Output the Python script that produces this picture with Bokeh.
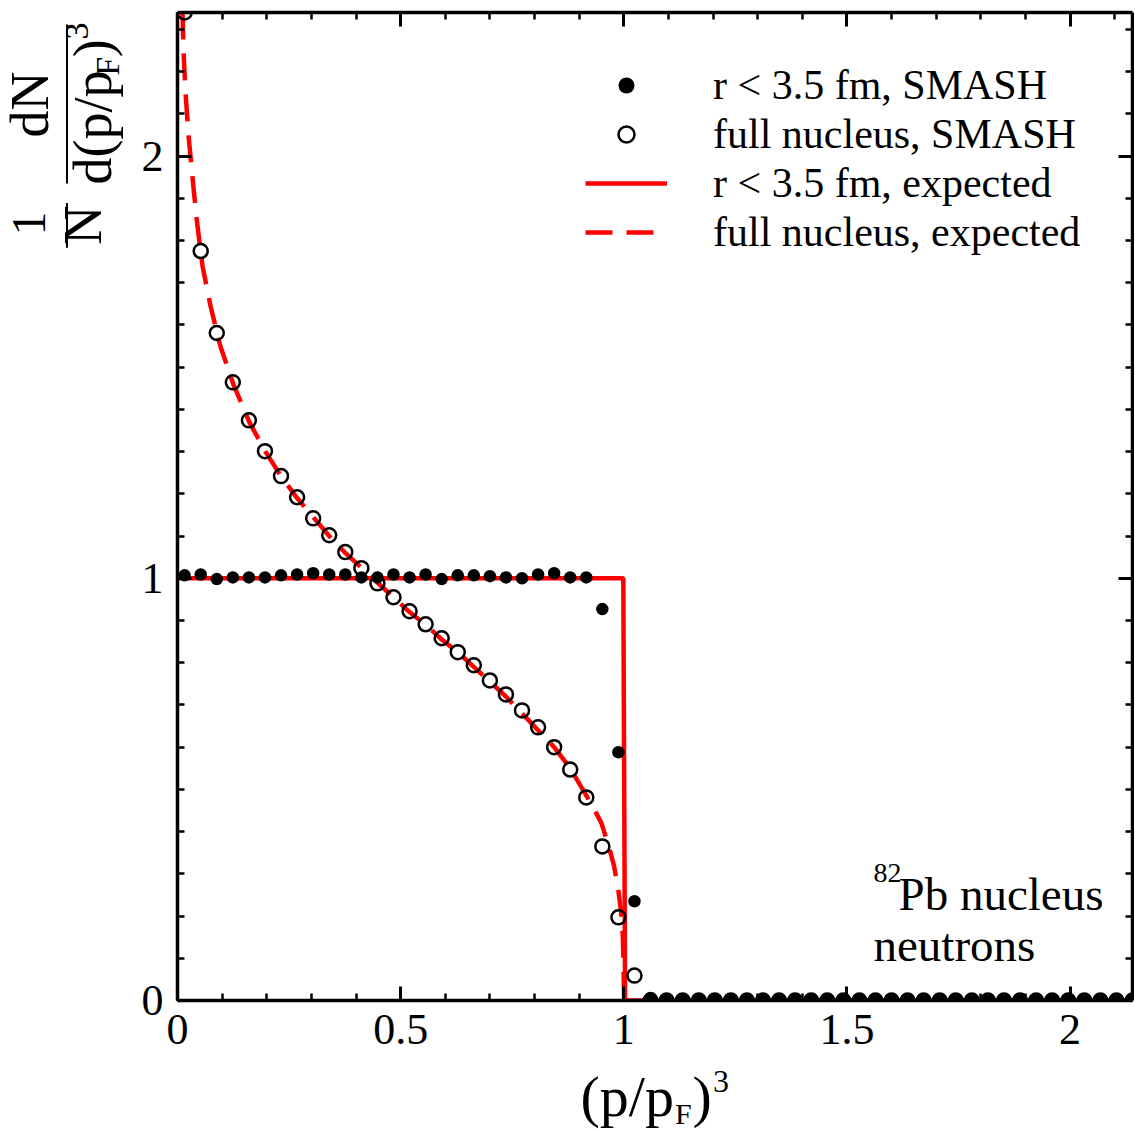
import math
from bokeh.plotting import figure
from bokeh.models import (Range1d, FixedTicker, LinearAxis, Legend, LegendItem, Label,
                          CustomJSTickFormatter)
from bokeh.layouts import row, column
from bokeh.embed import file_html
from bokeh.resources import INLINE
from bokeh.core.properties import value

FONT = "Liberation Serif"
RED = "#ff0000"
MID = 0.3375  # distance (in em) from alphabetic baseline to the text "middle"

# ---------------- data ----------------
# bin centres in (p/pF)^3
x_bins = [0.016, 0.052, 0.088, 0.124, 0.160, 0.196, 0.232, 0.268, 0.304, 0.340,
          0.376, 0.412, 0.448, 0.484, 0.520, 0.556, 0.592, 0.628, 0.664, 0.700,
          0.736, 0.772, 0.808, 0.844, 0.880, 0.916, 0.952, 0.988, 1.024, 1.060,
          1.096, 1.132, 1.168, 1.204, 1.240, 1.276, 1.312, 1.348, 1.384, 1.420,
          1.456, 1.492, 1.528, 1.564, 1.600, 1.636, 1.672, 1.708, 1.744, 1.780,
          1.816, 1.852, 1.888, 1.924, 1.960, 1.996, 2.032, 2.068, 2.104, 2.140]

# r < 3.5 fm, SMASH (filled dots)
y_core_smash = [1.007, 1.009, 0.998, 1.002, 1.002, 1.002, 1.007, 1.009, 1.012, 1.009,
                1.009, 1.002, 1.002, 1.009, 1.002, 1.009, 0.998, 1.007, 1.007, 1.005,
                1.002, 1.000, 1.009, 1.012, 1.002, 1.002, 0.927, 0.588, 0.235, 0.006,
                0.0, 0.0, 0.0, 0.0, 0.0, 0.0, 0.0, 0.0, 0.0, 0.0,
                0.0, 0.0, 0.0, 0.0, 0.0, 0.0, 0.0, 0.0, 0.0, 0.0,
                0.0, 0.0, 0.0, 0.0, 0.0, 0.0, 0.0, 0.0, 0.0, 0.0]

# full nucleus, SMASH (open circles)
y_full_smash = [2.340, 1.775, 1.581, 1.464, 1.374, 1.301, 1.242, 1.192, 1.142, 1.102,
                1.062, 1.024, 0.988, 0.955, 0.922, 0.891, 0.858, 0.825, 0.794, 0.758,
                0.725, 0.687, 0.647, 0.600, 0.547, 0.481, 0.365, 0.197, 0.059, 0.0,
                0.0, 0.0, 0.0, 0.0, 0.0, 0.0, 0.0, 0.0, 0.0, 0.0,
                0.0, 0.0, 0.0, 0.0, 0.0, 0.0, 0.0, 0.0, 0.0, 0.0,
                0.0, 0.0, 0.0, 0.0, 0.0, 0.0, 0.0, 0.0, 0.0, 0.0]

# r < 3.5 fm, expected (solid red)
x_core_exp = [0.0, 0.999, 1.003, 2.14]
y_core_exp = [1.0, 1.0, 0.0, 0.0]

# full nucleus, expected (dashed red)
x_full_exp = [0.0112, 0.0134, 0.018, 0.025, 0.034, 0.043, 0.056, 0.074, 0.096, 0.125,
              0.161, 0.197, 0.233, 0.268, 0.304, 0.340, 0.376, 0.412, 0.448, 0.484,
              0.520, 0.556, 0.592, 0.628, 0.664, 0.700, 0.736, 0.772, 0.808, 0.844,
              0.880, 0.908, 0.930, 0.950, 0.965, 0.978, 0.988, 0.994, 0.998, 1.001]
y_full_exp = [2.34, 2.25, 2.15, 2.045, 1.945, 1.85, 1.74, 1.645, 1.55, 1.46,
              1.37, 1.30, 1.24, 1.19, 1.145, 1.10, 1.06, 1.025, 0.99, 0.955,
              0.92, 0.89, 0.855, 0.825, 0.79, 0.755, 0.72, 0.68, 0.64, 0.60,
              0.55, 0.50, 0.46, 0.42, 0.37, 0.32, 0.26, 0.21, 0.15, 0.0]

x_tick_values = [0, 0.5, 1, 1.5, 2]
x_tick_labels = ["0", "0.5", "1", "1.5", "2"]
y_tick_values = [0, 1, 2]
y_tick_labels = ["0", "1", "2"]

legend_labels = ["r < 3.5 fm, SMASH", "full nucleus, SMASH",
                 "r < 3.5 fm, expected", "full nucleus, expected"]

X_MAX, Y_MAX = 2.14, 2.34

# ---------------- page geometry ----------------
LEFT_W = 128
MAIN_W = 1006
FRAME_L, FRAME_T, FRAME_B = 177, 12, 1000   # page pixels of the plot frame edges
MAIN_H = FRAME_B + 63
PAGE_H = 1130
BOT_H = PAGE_H - MAIN_H

# ---------------- main plot ----------------
main = figure(width=MAIN_W, height=MAIN_H, x_range=Range1d(0, X_MAX), y_range=Range1d(0, Y_MAX),
              output_backend="svg", toolbar_location=None,
              min_border_left=FRAME_L - LEFT_W, min_border_right=2,
              min_border_top=FRAME_T, min_border_bottom=MAIN_H - FRAME_B)
main.outline_line_color = None
main.grid.visible = False
main.background_fill_color = "white"
main.border_fill_color = "white"

ax_top = LinearAxis()
ax_right = LinearAxis()
main.add_layout(ax_top, "above")
main.add_layout(ax_right, "right")

x_minor = [round(0.1 * i, 1) for i in range(0, 22)]
y_minor = [round(0.1 * i, 1) for i in range(0, 24)]


def fmt(values, labels):
    return CustomJSTickFormatter(args=dict(v=values, l=labels), code="""
        for (let i = 0; i < v.length; i++) { if (Math.abs(v[i] - tick) < 1e-9) return l[i]; }
        return '';
    """)


def style(ax, ticks, minor, labels, standoff=14):
    ax.ticker = FixedTicker(ticks=ticks, minor_ticks=minor)
    ax.axis_line_width = 3.5
    ax.axis_line_color = "black"
    ax.major_tick_in = 14
    ax.major_tick_out = 0
    ax.minor_tick_in = 7
    ax.minor_tick_out = 0
    ax.major_tick_line_width = 3
    ax.minor_tick_line_width = 2.5
    ax.major_tick_line_color = "black"
    ax.minor_tick_line_color = "black"
    if labels is not None:
        ax.formatter = fmt(ticks, labels)
        ax.major_label_text_font = FONT
        ax.major_label_text_font_size = "44px"
        ax.major_label_text_color = "black"
        ax.major_label_standoff = standoff
    else:
        ax.formatter = CustomJSTickFormatter(code="return '';")
        ax.major_label_text_font_size = "0px"
        ax.major_label_standoff = 0


style(main.below[0], x_tick_values, x_minor, x_tick_labels, standoff=14)
style(main.left[0], y_tick_values, y_minor, y_tick_labels, standoff=14)
style(ax_top, x_tick_values, x_minor, None)
style(ax_right, y_tick_values, y_minor, None)

r_core_exp = main.line(x_core_exp, y_core_exp, line_color=RED, line_width=4.5)
r_full_exp = main.line(x_full_exp, y_full_exp, line_color=RED, line_width=4.5, line_dash="27 14")
r_core = main.scatter(x_bins, y_core_smash, marker="circle", size=12.5,
                      fill_color="black", line_color=None)
r_full = main.scatter(x_bins, y_full_smash, marker="circle", size=14,
                      fill_color=None, line_color="black", line_width=2.5)

legend = Legend(items=[LegendItem(label=legend_labels[0], renderers=[r_core]),
                       LegendItem(label=legend_labels[1], renderers=[r_full]),
                       LegendItem(label=legend_labels[2], renderers=[r_core_exp]),
                       LegendItem(label=legend_labels[3], renderers=[r_full_exp])],
                location=(408, 744), orientation="vertical",
                glyph_width=82, glyph_height=40, label_height=40, label_standoff=46,
                spacing=1, padding=0, margin=0,
                border_line_color=None, background_fill_alpha=0,
                label_text_font=FONT, label_text_font_size="42px", label_text_color="black")
main.add_layout(legend)


def frame_label(text, page_x, page_baseline, size):
    """Label inside the frame, placed by page pixel of its left edge and alphabetic baseline."""
    anchor = page_baseline - MID * size
    main.add_layout(Label(x=page_x - FRAME_L, y=FRAME_B - anchor, x_units="screen", y_units="screen",
                          text=text, text_font=FONT, text_font_size=f"{size}px",
                          text_baseline="middle", text_align="left", text_color="black"))


frame_label("82", 873, 882, 28)
frame_label("Pb nucleus", 898, 909, 47)
frame_label("neutrons", 873, 960, 47)

# ---------------- y-axis title panel (data coordinates = page pixels) ----------------
left = figure(width=LEFT_W, height=MAIN_H, x_range=Range1d(0, LEFT_W), y_range=Range1d(MAIN_H, 0),
              output_backend="svg", toolbar_location=None, min_border=0,
              x_axis_location=None, y_axis_location=None)
left.outline_line_color = None
left.grid.visible = False

rot = math.pi / 2
E = 54
S = 34
y0 = 185
yF = y0 - 2.111 * E - 3
yC = yF - 0.556 * S - 1
y3 = yC - 0.333 * E - 1
pieces = [  # text, baseline x, start y, size
    ("d(p/p", 111, y0, E),
    ("F", 118, yF, S),
    (")", 111, yC, E),
    ("3", 88, y3, S),
]
for t, bx, sy, fs in pieces:
    left.text(x=[bx - MID * fs], y=[sy], text=[t], angle=rot, text_font=value(FONT),
              text_font_size=value(f"{fs}px"), text_align="left",
              text_baseline="middle", text_color="black")
for t, bx, cy, fs in [("1", 45, 227, 48), ("N", 101, 229, E), ("dN", 48, 99, E)]:
    left.text(x=[bx - MID * fs], y=[cy], text=[t], angle=rot, text_font=value(FONT),
              text_font_size=value(f"{fs}px"), text_align="center",
              text_baseline="middle", text_color="black")
left.segment(x0=[66.5, 66.5], y0=[205, 13], x1=[66.5, 66.5], y1=[253, 184],
             line_color="black", line_width=2)

# ---------------- x-axis title panel (data coordinates = page pixels) ----------------
bottom = figure(width=LEFT_W + MAIN_W, height=BOT_H,
                x_range=Range1d(0, LEFT_W + MAIN_W), y_range=Range1d(PAGE_H, MAIN_H),
                output_backend="svg", toolbar_location=None, min_border=0,
                x_axis_location=None, y_axis_location=None)
bottom.outline_line_color = None
bottom.grid.visible = False
E2, S2, T2 = 58, 30, 32
xs = 580
xf = xs + 1.611 * E2 + 1
xc = xf + 0.556 * S2 + 1
x3 = xc + 0.333 * E2 + 1
xpieces = [  # text, start x, baseline y, size
    ("(p/p", xs, 1116, E2),
    ("F", xf, 1123, S2),
    (")", xc, 1116, E2),
    ("3", x3, 1092, T2),
]
for t, x0, by, fs in xpieces:
    bottom.text(x=[x0], y=[by - MID * fs], text=[t], text_font=value(FONT),
                text_font_size=value(f"{fs}px"), text_align="left",
                text_baseline="middle", text_color="black")

layout = column(row(left, main), bottom)
open("out.html", "w").write(file_html(layout, INLINE))
